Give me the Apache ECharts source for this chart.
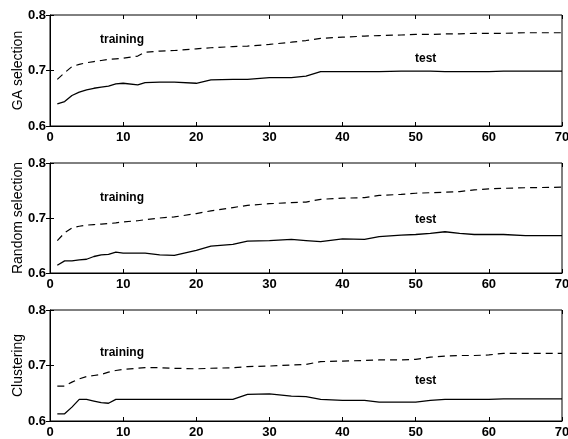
<!DOCTYPE html>
<html>
<head>
<meta charset="utf-8">
<script src="https://cdn.jsdelivr.net/npm/echarts@6/dist/echarts.min.js"></script>
<style>
html, body { margin: 0; padding: 0; background: #fff; }
#main { width: 568px; height: 439px; }
</style>
</head>
<body>
<div id="main"></div>
<script>
var gens = [1,2,3,4,5,6,7,8,9,10,12,13,15,17,20,22,25,27,30,33,35,37,40,43,45,48,50,52,54,56,58,60,62,65,70];

var xTicks = [0,10,20,30,40,50,60,70];
var yTicks = [0.6,0.7,0.8];
var panelNames = ['GA selection','Random selection','Clustering'];

var gaTrain   = [0.684,0.696,0.707,0.711,0.714,0.716,0.718,0.720,0.721,0.722,0.726,0.733,0.735,0.736,0.739,0.741,0.743,0.744,0.747,0.751,0.754,0.758,0.760,0.762,0.763,0.764,0.765,0.765,0.766,0.766,0.767,0.767,0.767,0.768,0.768];
var gaTest    = [0.640,0.644,0.655,0.661,0.665,0.668,0.670,0.672,0.676,0.677,0.674,0.678,0.679,0.679,0.677,0.683,0.684,0.684,0.687,0.687,0.690,0.698,0.698,0.698,0.698,0.699,0.699,0.699,0.698,0.698,0.698,0.698,0.699,0.699,0.699];
var rndTrain  = [0.659,0.673,0.682,0.685,0.687,0.688,0.689,0.690,0.691,0.693,0.695,0.697,0.700,0.702,0.708,0.713,0.719,0.723,0.726,0.728,0.729,0.734,0.736,0.737,0.741,0.743,0.745,0.746,0.747,0.748,0.751,0.753,0.754,0.755,0.756];
var rndTest   = [0.614,0.622,0.622,0.624,0.625,0.630,0.633,0.634,0.638,0.636,0.636,0.636,0.633,0.632,0.641,0.649,0.652,0.658,0.659,0.661,0.659,0.657,0.662,0.661,0.666,0.669,0.670,0.672,0.675,0.672,0.670,0.670,0.670,0.668,0.668];
var clTrain   = [0.663,0.663,0.670,0.676,0.680,0.682,0.684,0.688,0.691,0.693,0.695,0.696,0.696,0.695,0.694,0.695,0.696,0.698,0.699,0.701,0.702,0.707,0.708,0.709,0.710,0.710,0.711,0.715,0.717,0.718,0.718,0.719,0.722,0.722,0.722];
var clTest    = [0.613,0.613,0.625,0.639,0.639,0.636,0.633,0.632,0.639,0.639,0.639,0.639,0.639,0.639,0.639,0.639,0.639,0.648,0.649,0.645,0.644,0.639,0.637,0.637,0.634,0.634,0.634,0.637,0.639,0.639,0.639,0.639,0.640,0.640,0.640];

var trainSets = [gaTrain, rndTrain, clTrain];
var testSets = [gaTest, rndTest, clTest];

function pairs(vals){
        var out = [];
        for (var i = 0; i < gens.length; i++) out.push([gens[i], vals[i]]);
        return out;
}

var chart = echarts.init(document.getElementById('main'));

var tops = [15, 163, 310];
var heights = [111, 110, 111];
var font = 'Liberation Sans, Arial, sans-serif';

var grids = [], xAxes = [], yAxes = [], series = [], graphics = [];

for (var p = 0; p < 3; p++){
        grids.push({left: 50, width: 512, top: tops[p], height: heights[p], outerBoundsMode: 'none',
                show: true, borderColor: '#000', borderWidth: 1, backgroundColor: 'transparent'});

        // bottom axis with labels
        xAxes.push({type: 'value', gridIndex: p, min: xTicks[0], max: xTicks[xTicks.length-1], interval: 10,
                axisLine: {lineStyle: {color: '#000', width: 1}},
                axisTick: {inside: true, length: 4, lineStyle: {color: '#000'}},
                axisLabel: {color: '#000', fontSize: 13, fontWeight: 'bold', fontFamily: font, margin: 5},
                splitLine: {show: false}});
        // top axis, ticks only
        xAxes.push({type: 'value', gridIndex: p, position: 'top', min: 0, max: 70, interval: 10,
                axisLine: {show: false}, axisLabel: {show: false},
                axisTick: {inside: true, length: 4, lineStyle: {color: '#000'}},
                splitLine: {show: false}});

        yAxes.push({type: 'value', gridIndex: p, min: yTicks[0], max: yTicks[yTicks.length-1], interval: 0.1,
                name: panelNames[p], nameLocation: 'middle', nameGap: 25, nameMoveOverlap: false,
                nameTextStyle: {color: '#000', fontSize: 14, fontFamily: font},
                axisLine: {lineStyle: {color: '#000', width: 1}},
                axisTick: {inside: true, length: 4, lineStyle: {color: '#000'}},
                axisLabel: {color: '#000', fontSize: 13, fontWeight: 'bold', fontFamily: font, margin: 4,
                        formatter: function(v){ return v.toFixed(1); }},
                splitLine: {show: false}});
        yAxes.push({type: 'value', gridIndex: p, position: 'right', min: 0.6, max: 0.8, interval: 0.1,
                axisLine: {show: false}, axisLabel: {show: false},
                axisTick: {inside: true, length: 4, lineStyle: {color: '#000'}},
                splitLine: {show: false}});

        series.push({name: 'training', type: 'line', xAxisIndex: p*2, yAxisIndex: p*2,
                data: pairs(trainSets[p]), showSymbol: false, symbol: 'none',
                lineStyle: {color: '#000', width: 1.2, type: [7, 5]}});
        series.push({name: 'test', type: 'line', xAxisIndex: p*2, yAxisIndex: p*2,
                data: pairs(testSets[p]), showSymbol: false, symbol: 'none',
                lineStyle: {color: '#000', width: 1.3}});
}

var trainLabelY = [42, 200, 355];
var testLabelY = [61, 222, 383];
for (var k = 0; k < 3; k++){
        graphics.push({type: 'text', left: 100, top: trainLabelY[k] - 8,
                style: {text: 'training', fill: '#000', font: 'bold 12px ' + font}});
        graphics.push({type: 'text', left: 415, top: testLabelY[k] - 8,
                style: {text: 'test', fill: '#000', font: 'bold 12px ' + font}});
}

chart.setOption({
        animation: false,
        grid: grids,
        xAxis: xAxes,
        yAxis: yAxes,
        series: series,
        graphic: graphics
});
</script>
</body>
</html>
